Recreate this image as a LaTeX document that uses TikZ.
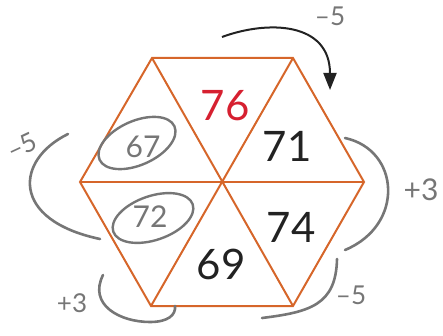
\documentclass[tikz,border=0pt]{standalone}
\usepackage{fontspec}
\setmainfont{Lato}
\usetikzlibrary{arrows.meta}
\definecolor{hexor}{RGB}{214,102,42}
\definecolor{numred}{RGB}{214,32,48}
\definecolor{numblk}{RGB}{34,34,34}
\definecolor{pencil}{RGB}{118,118,118}
\tikzset{
  hexline/.style={draw=hexor, line width=2pt, line join=miter},
  num/.style={font=\fontsize{42}{42}\selectfont, text=numblk, inner sep=0pt},
  pen/.style={draw=pencil, line width=2.6pt, line cap=round},
  note/.style={font=\fontsize{26}{26}\selectfont, text=pencil, inner sep=0pt},
  arr/.style={draw=numblk, line width=2pt, -{Triangle[length=17pt,width=13pt]}}
}
\begin{document}
\begin{tikzpicture}[x=1pt,y=-1pt]
\useasboundingbox (0,0) rectangle (443,336);
% hexagon vertices
\coordinate (tl) at (152,58);
\coordinate (tr) at (293,58);
\coordinate (r) at (364,182);
\coordinate (br) at (293,306);
\coordinate (bl) at (151,306);
\coordinate (l) at (80,182);
\coordinate (c) at (222,182);
\draw[hexline] (tl) -- (tr) -- (r) -- (br) -- (bl) -- (l) -- cycle;
\draw[hexline] (tl) -- (br);
\draw[hexline] (tr) -- (bl);
\draw[hexline] (l) -- (r);
% numbers
\node[num, text=numred] (n76) at (225,106) {76};
\node[num] (n71) at (287,146) {71};
\node[num] (n74) at (291,227) {74};
\node[num] (n69) at (221,264) {69};
% circled pencil numbers
\node[note, font=\fontsize{30}{30}\selectfont] (n67) at (143,147) {67};
\draw[pen, line width=2.4pt, rotate around={24:(137,143)}] (137,143) ellipse [x radius=41pt, y radius=22pt];
\node[note, font=\fontsize{30}{30}\selectfont] (n72) at (150,217) {72};
\draw[pen, line width=2.4pt, rotate around={19:(153,218)}] (153,218) ellipse [x radius=42pt, y radius=22pt];
% top arrow
\coordinate (a1) at (222,37);
\coordinate (a2) at (330,90);
\draw[arr] (a1) .. controls (268,20) and (330,22) .. (a2);
\node[note] (m1) at (330,16) {–5};
% right bracket
\coordinate (rb1) at (345,138);
\coordinate (rb2) at (345,250);
\draw[pen] (rb1) .. controls (400,150) and (405,225) .. (rb2);
\node[note, font=\fontsize{30}{30}\selectfont] (p1) at (421,190) {+3};
% bottom right bracket
\coordinate (bb1) at (337,259);
\coordinate (bb2) at (262,318);
\draw[pen] (bb1) .. controls (336,305) and (310,312) .. (bb2);
\node[note] (m2) at (351,295) {–5};
% bottom left bracket
\coordinate (lb1) at (103,275);
\coordinate (lb2) at (175,306);
\draw[pen] (lb1) .. controls (88,305) and (120,322) .. (150,322) .. controls (168,322) and (176,315) .. (lb2);
\node[note] (p2) at (72,303) {+3};
% left bracket
\coordinate (lf1) at (68,134);
\coordinate (lf2) at (100,239);
\draw[pen] (lf1) .. controls (15,160) and (10,220) .. (lf2);
\node[note, rotate=25] (m3) at (22,146) {–5};
\end{tikzpicture}
\end{document}
